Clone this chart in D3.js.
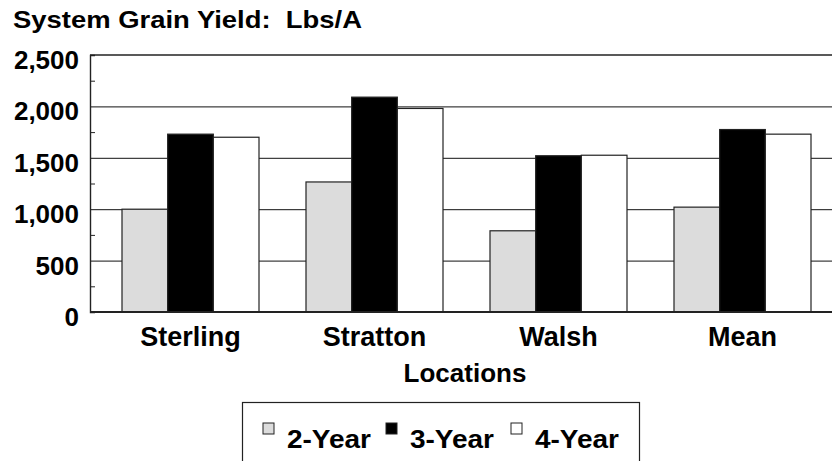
<!DOCTYPE html>
<html>
<head>
<meta charset="utf-8">
<script src="https://cdn.jsdelivr.net/npm/d3@7"></script>
<style>
  body { margin: 0; background: #fff; }
  svg text { font-family: "Liberation Sans", Arial, sans-serif; font-weight: bold; fill: #000; }
</style>
</head>
<body>
<svg id="chart-svg" width="832" height="461"></svg>
<script>
// Chart data
const locations = ["Sterling", "Stratton", "Walsh", "Mean"];
const seriesNames = ["2-Year", "3-Year", "4-Year"];
const twoYear = [1000, 1265, 790, 1020];
const threeYear = [1730, 2090, 1520, 1775];
const fourYear = [1700, 1980, 1525, 1730];
const yTicks = [0, 500, 1000, 1500, 2000, 2500];
const yTickLabels = ["0", "500", "1,000", "1,500", "2,000", "2,500"];

const seriesColors = ["#dcdcdc", "#000000", "#ffffff"];

// Layout
const size = { width: 832, height: 461, left: 90, top: 55, bottom: 312, right: 840 };

const svg = d3.select("#chart-svg");

const rows = locations.map((loc, i) => ({
    location: loc,
    values: [twoYear[i], threeYear[i], fourYear[i]]
}));

// Scales
const y = d3.scaleLinear()
    .domain([0, 2500])
    .range([size.bottom, size.top]);

const x = d3.scaleBand()
    .domain(locations)
    .range([98.5, 98.5 + 736])
    .paddingInner(47 / 184)
    .paddingOuter(47 / 368);

const xInner = d3.scaleBand()
    .domain(seriesNames)
    .range([0, x.bandwidth()]);

// Gridlines
svg.append("g")
    .selectAll("line")
    .data(yTicks.slice(1, -1))
    .enter().append("line")
    .attr("x1", size.left)
    .attr("x2", size.right)
    .attr("y1", d => y(d) + 0.5)
    .attr("y2", d => y(d) + 0.5)
    .attr("stroke", "#111")
    .attr("stroke-width", 1);

// Top border of plot
svg.append("line")
    .attr("x1", size.left).attr("x2", size.right)
    .attr("y1", y(2500)).attr("y2", y(2500))
    .attr("stroke", "#222").attr("stroke-width", 1.6);

// Bars
const groups = svg.append("g")
    .selectAll("g")
    .data(rows)
    .enter().append("g")
    .attr("transform", d => `translate(${x(d.location)},0)`);

groups.selectAll("rect")
    .data(d => d.values.map((v, j) => ({ series: seriesNames[j], value: v, idx: j })))
    .enter().append("rect")
    .attr("x", d => xInner(d.series))
    .attr("y", d => y(d.value))
    .attr("width", xInner.bandwidth())
    .attr("height", d => size.bottom - y(d.value))
    .attr("fill", d => seriesColors[d.idx])
    .attr("stroke", "#222")
    .attr("stroke-width", 1.2);

// Y axis with minor ticks inside
const yAxis = d3.axisLeft(y)
    .tickValues(d3.range(250, 2500, 500))
    .tickSize(-5)
    .tickFormat("");

svg.append("g")
    .attr("transform", `translate(${size.left},0)`)
    .call(yAxis)
    .call(g => g.select(".domain").attr("stroke", "#222").attr("stroke-width", 1.4))
    .call(g => g.selectAll(".tick line").attr("stroke", "#222"));

// Y tick labels
svg.append("g")
    .selectAll("text")
    .data(yTicks)
    .enter().append("text")
    .attr("x", 79)
    .attr("y", d => y(d) + 14)
    .attr("text-anchor", "end")
    .style("font-size", "26px")
    .text((d, i) => yTickLabels[i]);

// X axis baseline
svg.append("line")
    .attr("x1", size.left).attr("x2", size.right)
    .attr("y1", size.bottom).attr("y2", size.bottom)
    .attr("stroke", "#222").attr("stroke-width", 1.8);

// Category labels
svg.append("g")
    .selectAll("text")
    .data(locations)
    .enter().append("text")
    .attr("x", d => x(d) + x.bandwidth() / 2)
    .attr("y", 346)
    .attr("text-anchor", "middle")
    .style("font-size", "27px")
    .text(d => d);

// Axis title
svg.append("text")
    .attr("x", 465)
    .attr("y", 382)
    .attr("text-anchor", "middle")
    .style("font-size", "26px")
    .text("Locations");

// Chart title (keep the double space)
svg.append("text")
    .attr("x", 13)
    .attr("y", 27.7)
    .attr("textLength", 349)
    .attr("lengthAdjust", "spacingAndGlyphs")
    .style("font-size", "24.5px")
    .style("white-space", "pre")
    .text("System Grain Yield:  Lbs/A");

// Legend
const legend = svg.append("g");
legend.append("rect")
    .attr("x", 242.5).attr("y", 402.5)
    .attr("width", 397).attr("height", 80)
    .attr("fill", "#fff")
    .attr("stroke", "#222")
    .attr("stroke-width", 1.2);

const legendX = [263, 386, 511];
seriesNames.forEach((name, i) => {
    legend.append("rect")
        .attr("x", legendX[i]).attr("y", 423)
        .attr("width", 11).attr("height", 11)
        .attr("fill", seriesColors[i])
        .attr("stroke", "#222")
        .attr("stroke-width", 1);
    legend.append("text")
        .attr("x", legendX[i] + 24)
        .attr("y", 448)
        .attr("textLength", 84)
        .attr("lengthAdjust", "spacingAndGlyphs")
        .style("font-size", "26px")
        .text(name);
});
</script>
</body>
</html>
